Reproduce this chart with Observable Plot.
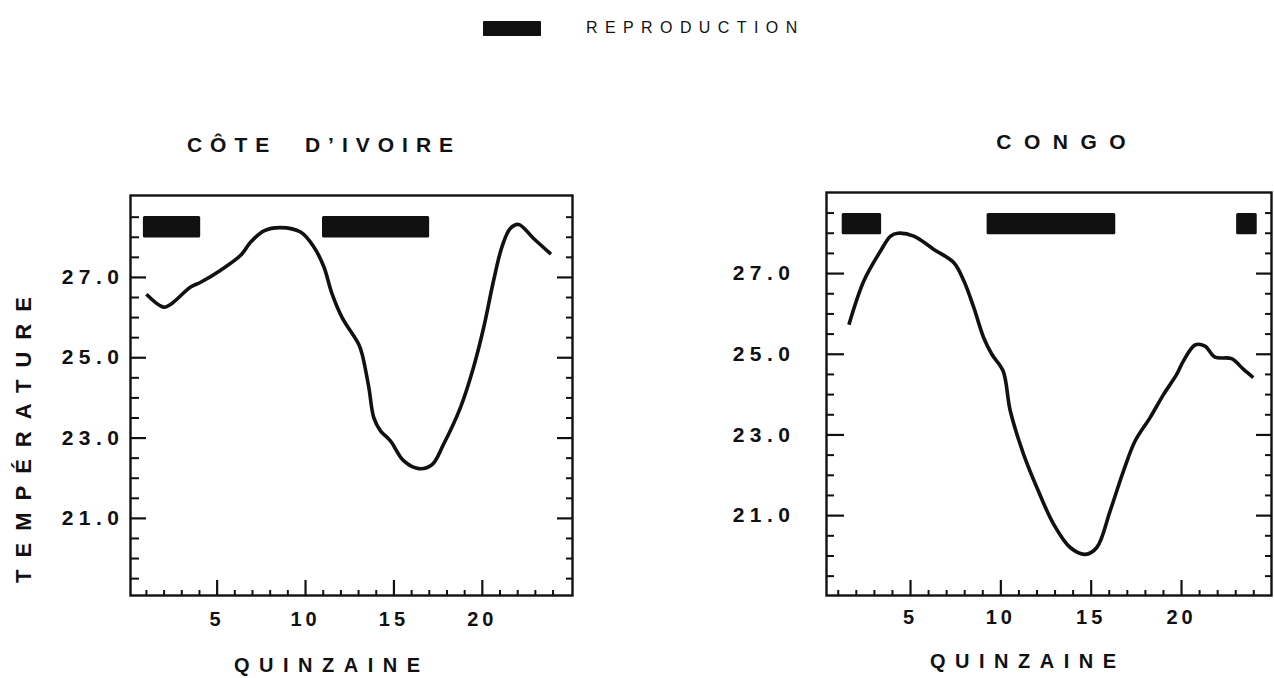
<!DOCTYPE html>
<html>
<head>
<meta charset="utf-8">
<script src="https://cdn.jsdelivr.net/npm/d3@7"></script>
<script src="https://cdn.jsdelivr.net/npm/@observablehq/plot@0.6"></script>
<style>
  html, body { margin: 0; padding: 0; background: #fff; }
  #root { position: relative; width: 1274px; height: 678px; overflow: hidden; background: #fff;
          font-family: "Liberation Sans", Arial, sans-serif; color: #111; }
  .lbl { position: absolute; white-space: nowrap; transform: translate(-50%, -50%); line-height: 1; }
  .panel { position: absolute; }
  .panel svg { overflow: visible; }
  g[aria-label="y-axis tick label"] text { letter-spacing: 5.5px; font-size: 21px !important; font-weight: bold; }
  g[aria-label="x-axis tick label"] text { letter-spacing: 4px; font-size: 20px !important; font-weight: bold; }
</style>
</head>
<body>
<div id="root"></div>
<script>
// ---------- data ----------
// Côte d'Ivoire : température moyenne par quinzaine
const civQuinzaine = [1.0, 1.96, 2.37, 3.5, 4.07, 5.2, 6.33, 6.9, 7.65, 8.59, 9.72, 10.47, 11.04, 11.5, 12.07, 13.0, 13.2, 13.58, 13.86, 14.24, 14.8, 15.56, 16.4, 17.16, 17.8, 18.76, 19.5, 20.08, 20.64, 21.11, 21.58, 22.05, 22.9, 23.88];
const civTemp = [26.58, 26.26, 26.33, 26.76, 26.88, 27.18, 27.55, 27.88, 28.16, 28.24, 28.13, 27.76, 27.26, 26.59, 26.0, 25.34, 25.09, 24.26, 23.51, 23.18, 22.93, 22.43, 22.24, 22.34, 22.84, 23.76, 24.76, 25.76, 26.93, 27.76, 28.22, 28.32, 27.97, 27.58];
// Côte d'Ivoire : périodes de reproduction (quinzaines)
const civReproStart = [0.83, 10.96];
const civReproEnd = [4.07, 17.02];

// Congo
const congoQuinzaine = [1.59, 2.42, 3.34, 3.9, 4.3, 5.18, 6.29, 7.4, 7.95, 8.5, 9.05, 9.5, 10.12, 10.52, 11.26, 12.0, 12.92, 13.84, 14.67, 15.31, 16.05, 16.79, 17.43, 18.26, 19.0, 19.73, 20.1, 20.75, 21.3, 21.85, 22.77, 23.42, 23.97];
const congoTemp = [25.73, 26.82, 27.56, 27.93, 28.0, 27.93, 27.6, 27.27, 26.82, 26.16, 25.41, 25.0, 24.59, 23.6, 22.52, 21.69, 20.79, 20.21, 20.04, 20.21, 21.12, 22.11, 22.85, 23.43, 24.0, 24.5, 24.83, 25.23, 25.2, 24.93, 24.89, 24.63, 24.42];
const congoReproStart = [1.22, 9.24, 23.05];
const congoReproEnd = [3.4, 16.36, 24.19];

// tick values and labels
const yMajorTicks = [21, 23, 25, 27];
const yMinorTicks = [19.5, 20, 20.5, 21.5, 22, 22.5, 23.5, 24, 24.5, 25.5, 26, 26.5, 27.5, 28, 28.5];
const xMajorTicks = [5, 10, 15, 20];
const xMinorTicks = [1, 2, 3, 4, 6, 7, 8, 9, 11, 12, 13, 14, 16, 17, 18, 19, 21, 22, 23, 24];
const reproBand = { low: 27.98, high: 28.52 };

const titles = { civ: "CÔTE\u00a0\u00a0D\u2019IVOIRE", congo: "CONGO" };
const xTitle = "QUINZAINE";
const yTitle = "TEMPÉRATURE";
const legendLabel = "REPRODUCTION";

// ---------- helpers ----------
const root = document.getElementById("root");
function addLabel(text, x, y, opts = {}) {
  const d = document.createElement("div");
  d.className = "lbl";
  d.textContent = text;
  d.style.left = x + "px";
  d.style.top = y + "px";
  d.style.fontSize = (opts.size || 18) + "px";
  d.style.letterSpacing = (opts.spacing || 0) + "px";
  d.style.paddingLeft = (opts.spacing || 0) + "px";
  if (opts.weight) d.style.fontWeight = opts.weight;
  if (opts.rotate) d.style.transform = `translate(-50%, -50%) rotate(${opts.rotate}deg)`;
  root.appendChild(d);
}

function panel({quinzaine, temp, starts, ends, band, xDomain, yDomain, width, height, margins, left, top,
                leftMajor, leftMinor, rightMajor, rightMinor, yPad, xPad}) {
  const fw = width - margins.left - margins.right;
  const fh = height - margins.top - margins.bottom;
  const pts = quinzaine.map((q, i) => ({q, t: temp[i]}));
  const bars = starts.map((s, i) => ({s, e: ends[i], lo: band.low, hi: band.high}));
  const chart = Plot.plot({
    width, height,
    marginLeft: margins.left, marginRight: margins.right, marginTop: margins.top, marginBottom: margins.bottom,
    style: {fontFamily: '"Liberation Sans", Arial, sans-serif', color: "#111", background: "transparent", overflow: "visible"},
    x: {domain: xDomain},
    y: {domain: yDomain},
    marks: [
      Plot.axisY(yMajorTicks, {tickSize: 0, tickPadding: yPad, tickFormat: d3.format(".1f"), fontSize: 21, fontWeight: "bold", label: null}),
      Plot.axisX(xMajorTicks, {tickSize: 0, tickPadding: xPad, tickFormat: d => String(d), fontSize: 20, fontWeight: "bold", label: null}),
      // inward ticks, left side
      Plot.tickY(yMajorTicks, {y: d => d, insetRight: fw - leftMajor, stroke: "#111", strokeWidth: 2.2}),
      Plot.tickY(yMinorTicks, {y: d => d, insetRight: fw - leftMinor, stroke: "#111", strokeWidth: 2}),
      // inward ticks, right side
      Plot.tickY(yMajorTicks, {y: d => d, insetLeft: fw - rightMajor, stroke: "#111", strokeWidth: 2.2}),
      Plot.tickY(yMinorTicks, {y: d => d, insetLeft: fw - rightMinor, stroke: "#111", strokeWidth: 2}),
      // inward ticks, bottom
      Plot.tickX(xMajorTicks, {x: d => d, insetTop: fh - 15, stroke: "#111", strokeWidth: 2.2}),
      Plot.tickX(xMinorTicks, {x: d => d, insetTop: fh - 5, stroke: "#111", strokeWidth: 2}),
      Plot.frame({stroke: "#111", strokeWidth: 2.4}),
      Plot.rect(bars, {x1: "s", x2: "e", y1: "lo", y2: "hi", fill: "#111", rx: 1.5}),
      Plot.line(pts, {x: "q", y: "t", curve: "catmull-rom", stroke: "#111", strokeWidth: 3.6, strokeLinecap: "butt", strokeLinejoin: "round"})
    ]
  });
  const wrap = document.createElement("div");
  wrap.className = "panel";
  wrap.style.left = left + "px";
  wrap.style.top = top + "px";
  wrap.appendChild(chart);
  root.appendChild(wrap);
}

// ---------- legend ----------
const sw = document.createElement("div");
sw.style.cssText = "position:absolute;left:483px;top:21px;width:58px;height:15px;background:#111;border-radius:1px;";
root.appendChild(sw);
const sl = document.createElement("div");
sl.textContent = legendLabel;
sl.style.cssText = "position:absolute;left:586px;top:20px;font-size:16px;letter-spacing:7.4px;line-height:1;white-space:nowrap;";
root.appendChild(sl);

// ---------- panels ----------
panel({
  quinzaine: civQuinzaine, temp: civTemp, starts: civReproStart, ends: civReproEnd,
  band: reproBand, xDomain: [0.1, 25.1], yDomain: [19.08, 29.04],
  width: 640, height: 558, margins: {left: 130, right: 68, top: 75, bottom: 83}, left: 0, top: 120,
  leftMajor: 16, leftMinor: 9, rightMajor: 15, rightMinor: 6, yPad: 6, xPad: 16
});
panel({
  quinzaine: congoQuinzaine, temp: congoTemp, starts: congoReproStart, ends: congoReproEnd,
  band: {low: 27.96, high: 28.49}, xDomain: [0.35, 24.98], yDomain: [19.02, 29.01],
  width: 574, height: 558, margins: {left: 126, right: 3, top: 72, bottom: 83}, left: 700, top: 120,
  leftMajor: 18, leftMinor: 8, rightMajor: 15, rightMinor: 6, yPad: 31, xPad: 14
});

// ---------- titles ----------
addLabel(titles.civ, 320, 144, {size: 21, spacing: 8, weight: "bold"});
addLabel(titles.congo, 1061, 141, {size: 21, spacing: 12.5, weight: "bold"});
addLabel(xTitle, 327, 665, {size: 20, spacing: 9.5, weight: "bold"});
addLabel(xTitle, 1023, 661, {size: 20, spacing: 9.5, weight: "bold"});
addLabel(yTitle, 24, 440, {size: 22, spacing: 12, rotate: -90, weight: "bold"});
</script>
</body>
</html>
